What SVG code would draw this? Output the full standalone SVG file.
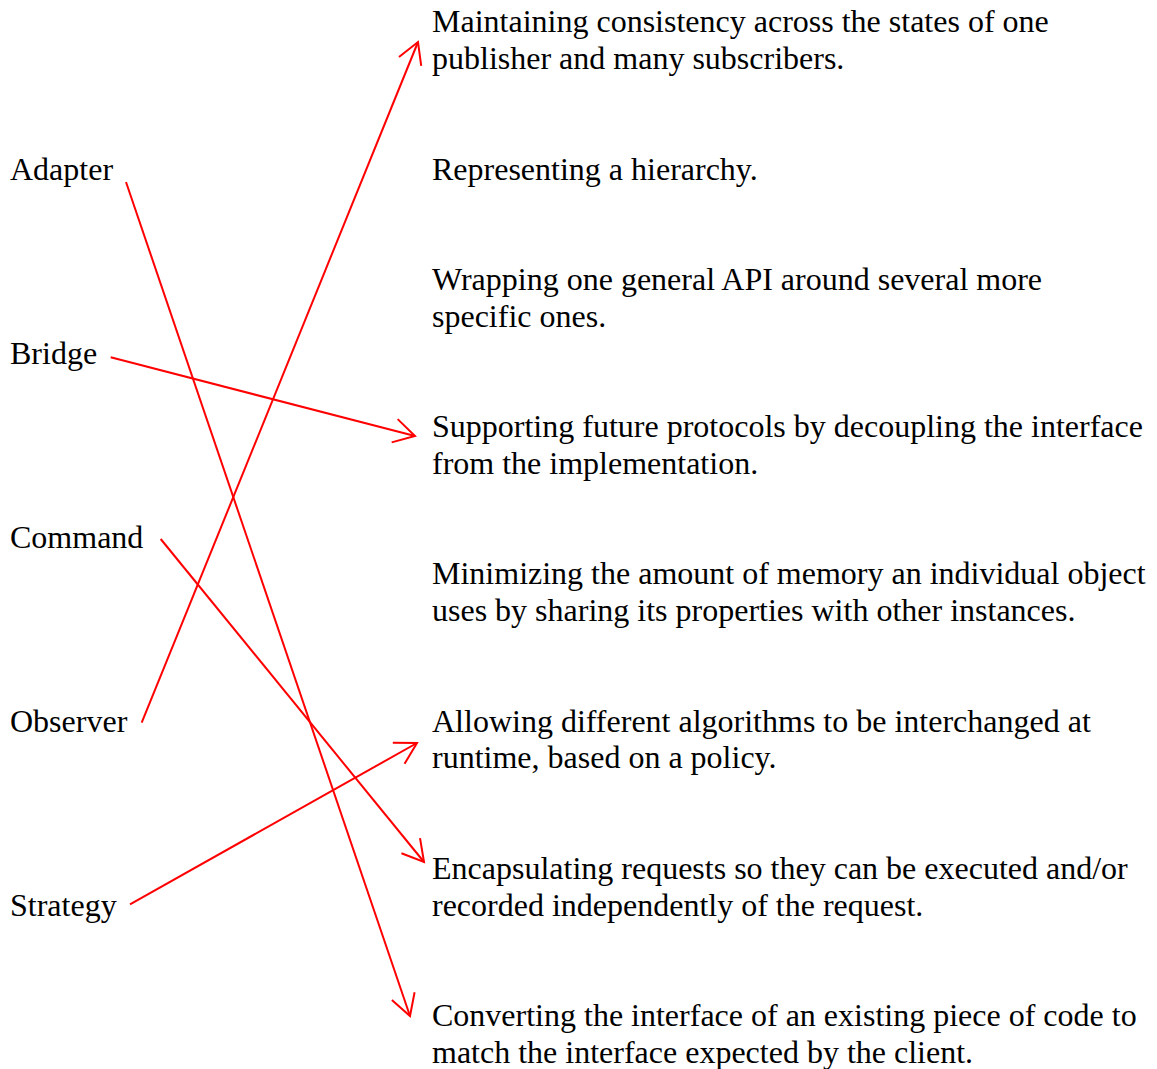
<svg xmlns="http://www.w3.org/2000/svg" width="1157" height="1069" viewBox="0 0 1157 1069">
<style>
text { font-family: "Liberation Serif", "Times New Roman", serif; font-size: 32px; fill: #000; }
.conn { stroke: #ff0000; stroke-width: 2; fill: none; marker-end: url(#arr); }
</style>
<defs>
<marker id="arr" markerUnits="userSpaceOnUse" markerWidth="40" markerHeight="40" viewBox="-30 -20 40 40" refX="0" refY="0" orient="auto" overflow="visible">
<path d="M-21,-12 L0,0 L-21,12" fill="none" stroke="#ff0000" stroke-width="2"/>
</marker>
</defs>
<rect width="1157" height="1069" fill="#ffffff"/>
<g id="left-nodes">
<g id="adapter"><text x="10" y="179.5">Adapter</text></g>
<g id="bridge"><text x="10" y="363.5">Bridge</text></g>
<g id="command"><text x="10" y="547.5">Command</text></g>
<g id="observer"><text x="10" y="731.5">Observer</text></g>
<g id="strategy"><text x="10" y="915.5">Strategy</text></g>
</g>
<g id="right-nodes">
<g id="d-observer"><text x="432" y="32.3">Maintaining consistency across the states of one</text><text x="432" y="69.1">publisher and many subscribers.</text></g>
<g id="d-composite"><text x="432" y="179.5">Representing a hierarchy.</text></g>
<g id="d-facade"><text x="432" y="289.9">Wrapping one general API around several more</text><text x="432" y="326.7">specific ones.</text></g>
<g id="d-bridge"><text x="432" y="437.1">Supporting future protocols by decoupling the interface</text><text x="432" y="473.9">from the implementation.</text></g>
<g id="d-flyweight"><text x="432" y="584.3">Minimizing the amount of memory an individual object</text><text x="432" y="621.1">uses by sharing its properties with other instances.</text></g>
<g id="d-strategy"><text x="432" y="731.5">Allowing different algorithms to be interchanged at</text><text x="432" y="768.3">runtime, based on a policy.</text></g>
<g id="d-command"><text x="432" y="878.7">Encapsulating requests so they can be executed and/or</text><text x="432" y="915.5">recorded independently of the request.</text></g>
<g id="d-adapter"><text x="432" y="1025.9">Converting the interface of an existing piece of code to</text><text x="432" y="1062.7">match the interface expected by the client.</text></g>
</g>
<g id="connectors">
<line class="conn" x1="126" y1="182" x2="410" y2="1016"/>
<line class="conn" x1="110.7" y1="357.3" x2="415" y2="436"/>
<line class="conn" x1="160.7" y1="539" x2="424" y2="862"/>
<line class="conn" x1="141.7" y1="722.7" x2="418" y2="42"/>
<line class="conn" x1="130" y1="904.3" x2="417" y2="743"/>
</g>
</svg>
